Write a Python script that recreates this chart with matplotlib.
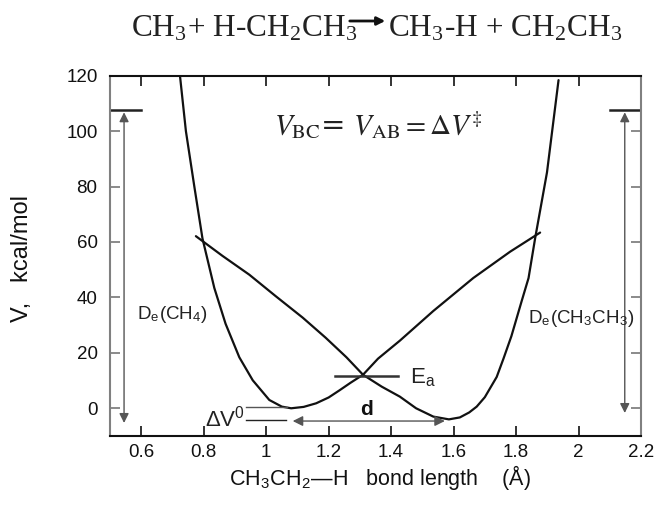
import matplotlib
matplotlib.use('Agg')
import matplotlib.pyplot as plt
import numpy as np

plt.rcParams['mathtext.fontset'] = 'stix'

# CH4 (C-H) potential curve
x_ch4 = [0.724, 0.743, 0.770, 0.796, 0.834, 0.870, 0.914, 0.957, 1.010, 1.050,
         1.080, 1.120, 1.160, 1.200, 1.235, 1.270, 1.310, 1.358, 1.428, 1.535,
         1.663, 1.781, 1.877]
v_ch4 = [120.0, 100.0, 80.0, 61.3, 43.4, 30.5, 18.4, 10.1, 3.0, 0.6,
         0.0, 0.5, 1.8, 3.9, 6.5, 9.2, 12.1, 17.9, 24.4, 35.1,
         47.0, 56.5, 63.4]

# CH3CH2-H potential curve
x_c2h6 = [0.775, 0.860, 0.946, 1.030, 1.117, 1.190, 1.257, 1.310, 1.370, 1.428,
          1.480, 1.535, 1.585, 1.620, 1.650, 1.674, 1.700, 1.738, 1.760, 1.785,
          1.818, 1.840, 1.861, 1.899, 1.936]
v_c2h6 = [62.1, 55.0, 48.2, 40.5, 32.7, 25.5, 18.4, 12.1, 7.8, 4.2,
          0.0, -3.0, -4.0, -3.3, -1.5, 0.6, 4.0, 11.3, 18.0, 26.0,
          38.7, 47.0, 61.3, 85.1, 118.4]

xticks = [0.6, 0.8, 1.0, 1.2, 1.4, 1.6, 1.8, 2.0, 2.2]
xticklabels = ['0.6', '0.8', '1', '1.2', '1.4', '1.6', '1.8', '2', '2.2']
yticks = [0, 20, 40, 60, 80, 100, 120]

De = 107.5          # dissociation level
Ea = 11.5           # crossing energy
dV0 = -4.2          # product well depth

fig = plt.figure(figsize=(6.58, 5.08), dpi=100)
ax = fig.add_axes([110/658, 1-436/508, 531/658, 360.3/508])

ax.plot(x_ch4, v_ch4, color='#111111', lw=1.6, solid_capstyle='round')
ax.plot(x_c2h6, v_c2h6, color='#111111', lw=1.6, solid_capstyle='round')

# dissociation bars and arrows
ax.plot([0.5, 0.598], [De, De], color='#222222', lw=1.8)
ax.plot([2.10, 2.2], [De, De], color='#222222', lw=1.8)
gray = '#555555'
ax.annotate('', xy=(0.545, -5.3), xytext=(0.545, 106.8),
            arrowprops=dict(arrowstyle='<|-|>', color=gray, lw=1.0,
                            mutation_scale=14, shrinkA=0, shrinkB=0))
ax.annotate('', xy=(2.148, -1.7), xytext=(2.148, 106.8),
            arrowprops=dict(arrowstyle='<|-|>', color=gray, lw=1.0,
                            mutation_scale=14, shrinkA=0, shrinkB=0))
ax.text(0.587, 32.2, r'D$_\mathregular{e}$(CH$_\mathregular{4}$)', fontsize=13.5,
        family='Liberation Sans', color='#222222')
ax.text(1.839, 30.9, r'D$_\mathregular{e}$(CH$_\mathregular{3}$CH$_\mathregular{3}$)',
        fontsize=13.5, family='Liberation Sans', color='#222222')

# activation energy
ax.plot([1.219, 1.422], [Ea, Ea], color='#333333', lw=1.8)
ax.text(1.46, 9.0, r'E$_\mathregular{a}$', fontsize=16, family='Liberation Sans',
        color='#222222')

# reaction energy
ax.plot([0.935, 1.068], [0.3, 0.3], color=gray, lw=1.0)
ax.plot([0.935, 1.062], [dV0, dV0], color='#222222', lw=1.0)
ax.text(0.803, -6.6, r'$\mathregular{\Delta V^0}$', fontsize=16,
        family='Liberation Sans', color='#222222')

# distance arrow
ax.annotate('', xy=(1.085, -4.6), xytext=(1.572, -4.6),
            arrowprops=dict(arrowstyle='<|-|>', color=gray, lw=1.0,
                            mutation_scale=15, shrinkA=0, shrinkB=0))
ax.text(1.32, -2.4, 'd', fontsize=15, fontweight='bold', family='Liberation Sans',
        ha='center', color='#111111')

ax.text(1.36, 98.7, r'$V_{\mathrm{BC}}$= $V_{\mathrm{AB}} = \Delta V^{\ddagger}$',
        fontsize=21, ha='center', color='#222222')

ax.set_xlim(0.5, 2.2)
ax.set_ylim(-10, 120)
ax.set_xticks(xticks)
ax.set_xticklabels(xticklabels)
ax.set_yticks(yticks)
ax.tick_params(direction='in', length=7, width=1.2, labelsize=13.5,
               top=True, right=True)
ax.tick_params(axis='x', pad=6, colors='#111111')
ax.tick_params(axis='y', pad=9, color='#777777', labelcolor='#111111')
for lab in ax.get_xticklabels() + ax.get_yticklabels():
    lab.set_family('Liberation Sans')
for s in ['left', 'right']:
    ax.spines[s].set_color('#808080')
    ax.spines[s].set_linewidth(1.5)
for s in ['top', 'bottom']:
    ax.spines[s].set_color('#111111')
    ax.spines[s].set_linewidth(1.5)

# axis labels
fig.text(22/658, 1-258/508, 'V,   kcal/mol', rotation=90, ha='center', va='center',
         fontsize=17, family='Liberation Sans', color='#111111')
fig.text(380/658, 1-485/508,
         r'CH$_\mathregular{3}$CH$_\mathregular{2}$—H   bond length    (Å)',
         ha='center', va='baseline', fontsize=15.5, family='Liberation Sans',
         color='#111111')

# reaction title
fig.text(131/658, 1-37/508, r'CH$_\mathregular{3}$+ H-CH$_\mathregular{2}$CH$_\mathregular{3}$',
         ha='left', va='baseline', fontsize=22.5, family='Liberation Serif',
         color='#222222')
fig.text(388/658, 1-37/508, r'CH$_\mathregular{3}$-H + CH$_\mathregular{2}$CH$_\mathregular{3}$',
         ha='left', va='baseline', fontsize=22.5, family='Liberation Serif',
         color='#222222')
fig.patches.append(matplotlib.patches.FancyArrowPatch(
    (347, 508-21), (388, 508-21), transform=None, arrowstyle='-|>',
    mutation_scale=12, lw=2, color='#111111'))

fig.savefig('out.png', dpi=100)
